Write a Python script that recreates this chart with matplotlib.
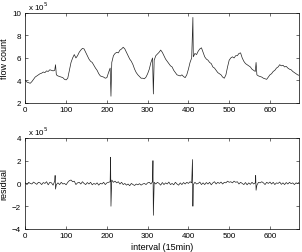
import numpy as np
import matplotlib
matplotlib.use("Agg")
import matplotlib.pyplot as plt

# traffic flow, sampled every 4 intervals (units of 1e5)
flow_step = 4
flow_vals = [
    4.0, 3.85, 3.8, 3.75, 3.9, 4.1, 4.3, 4.4, 4.5, 4.6,
    4.65, 4.75, 4.7, 4.85, 4.8, 4.95, 4.9, 4.85, 4.9, 4.5,
    4.4, 4.35, 4.3, 4.25, 4.1, 4.05, 4.2, 4.9, 5.6, 6.0,
    6.3, 6.0, 6.2, 6.5, 6.7, 6.85, 6.8, 6.5, 6.2, 5.9,
    5.7, 5.6, 5.35, 5.1, 4.9, 4.6, 4.4, 4.35, 4.3, 4.2,
    4.25, 4.7, 5.1, 5.6, 6.2, 6.4, 6.5, 6.45, 6.7, 6.8,
    6.95, 6.8, 6.5, 6.2, 5.9, 5.7, 5.4, 5.0, 4.7, 4.5,
    4.35, 4.2, 4.2, 4.15, 4.3, 4.6, 5.0, 5.6, 6.0, 5.8,
    6.2, 6.35, 6.5, 6.7, 6.5, 6.2, 5.9, 5.7, 5.5, 5.3,
    5.2, 4.9, 4.7, 4.5, 4.45, 4.4, 4.5, 4.35, 4.25, 4.5,
    5.0, 5.6, 6.0, 6.1, 6.4, 6.3, 6.6, 6.8, 6.9, 6.5,
    6.1, 5.9, 5.8, 5.6, 5.5, 5.2, 5.1, 4.9, 4.7, 4.6,
    4.5, 4.3, 4.2, 4.5, 5.2, 5.8, 6.0, 6.1, 6.0, 6.2,
    6.2, 6.4, 6.45, 6.0, 5.7, 5.5, 5.4, 5.3, 5.2, 5.0,
    4.9, 4.8, 4.5, 4.4, 4.35, 4.3, 4.2, 4.15, 4.1, 4.3,
    4.5, 4.6, 4.8, 4.9, 5.1, 5.2, 5.4, 5.3, 5.35, 5.2,
    5.25, 5.1, 5.0, 4.95, 4.8, 4.7, 4.6, 4.5, 4.45,
]
# anomalies in the flow
flow_spike_t = [74, 210, 314, 411, 566]
flow_spike_v = [5.4, 2.6, 2.8, 9.6, 5.6]

# residual of the model (units of 1e5)
res_vals = [
    0.05, -0.1, 0.1, 0.0, -0.05, 0.12, 0.02, -0.08, 0.1, 0.05,
    -0.1, 0.08, 0.0, 0.15, -0.12, 0.1, 0.05, -0.15, 0.2, -0.1,
    0.05, -0.1, 0.1, -0.05, 0.0, -0.12, 0.1, 0.25, 0.3, 0.15,
    0.2, -0.1, 0.05, 0.1, -0.05, 0.15, 0.0, -0.1, 0.08, -0.05,
    0.1, -0.12, 0.0, -0.08, 0.05, -0.15, 0.02, -0.05, 0.1, -0.1,
    0.05, 0.1, 0.15, 0.3, 0.1, 0.2, 0.05, 0.15, -0.05, 0.1,
    -0.1, 0.0, -0.15, -0.05, -0.2, 0.0, -0.1, -0.18, -0.05, -0.12,
    -0.02, -0.15, -0.05, 0.0, -0.1, 0.05, 0.1, -0.05, 0.15, 0.1,
    -0.05, 0.1, 0.0, -0.15, 0.08, -0.1, 0.05, -0.05, 0.12, -0.1,
    0.0, -0.12, 0.1, -0.05, -0.15, 0.05, -0.1, 0.08, -0.05, 0.1,
    0.0, 0.15, 0.05, -0.1, 0.1, -0.05, 0.0, 0.12, -0.1, 0.05,
    -0.1, 0.08, -0.05, 0.1, -0.12, 0.05, 0.15, -0.05, 0.1, 0.0,
    0.12, -0.05, 0.1, 0.05, 0.2, 0.1, 0.15, 0.05, 0.2, 0.1,
    0.15, -0.05, 0.1, 0.0, -0.1, 0.08, -0.12, 0.05, -0.08, 0.1,
    -0.05, 0.05, -0.15, 0.1, 0.05, 0.15, 0.05, -0.1, 0.1, 0.0,
    0.12, -0.05, 0.1, -0.1, 0.05, 0.0, 0.12, -0.08, 0.05, -0.1,
    0.08, -0.05, 0.1, -0.02, 0.05, -0.1, 0.05, 0.0, 0.1,
]
res_spike_t = [73, 74, 209, 210, 313, 314, 410, 411, 565, 566]
res_spike_v = [0.7, -0.5, 2.3, -2.0, 2.0, -2.8, 2.1, -2.0, 0.7, -0.6]

x_ticks = [0, 100, 200, 300, 400, 500, 600]
flow_ticks = [2, 4, 6, 8, 10]
res_ticks = [-4, -2, 0, 2, 4]


def merge(vals, spike_t, spike_v):
    t = np.arange(len(vals)) * flow_step
    t_all = np.concatenate([t, spike_t])
    v_all = np.concatenate([vals, spike_v])
    order = np.argsort(t_all, kind="stable")
    return t_all[order], v_all[order]


plt.rcParams["font.family"] = ["Liberation Sans", "DejaVu Sans"]
plt.rcParams["font.size"] = 5.5

fig = plt.figure(figsize=(3.02, 2.53), dpi=100)
ax1 = fig.add_axes([0.084, 0.589, 0.907, 0.356])
ax2 = fig.add_axes([0.084, 0.091, 0.907, 0.360])

ft, fv = merge(flow_vals, flow_spike_t, flow_spike_v)
rt, rv = merge(res_vals, res_spike_t, res_spike_v)

ax1.plot(ft, fv, color="#222222", lw=0.5)
ax2.plot(rt, rv, color="#222222", lw=0.5)

for ax, yt, lbl in [(ax1, flow_ticks, "flow count"), (ax2, res_ticks, "residual")]:
    ax.set_xlim(0, 672)
    ax.set_ylim(yt[0], yt[-1])
    ax.set_xticks(x_ticks)
    ax.set_yticks(yt)
    ax.tick_params(direction="in", length=2, width=0.4, top=True, right=True,
                   labelsize=5.8, pad=2.5)
    ax.tick_params(axis="y", pad=3)
    for s in ax.spines.values():
        s.set_linewidth(0.5)
    ax.set_ylabel(lbl, fontsize=6.5, labelpad=2.5)
    ax.text(0.01, 1.015, r"x 10$^{5}$", transform=ax.transAxes,
            fontsize=5.8, ha="left", va="bottom")

ax2.set_xlabel("interval (15min)", fontsize=6.5, labelpad=1.5)

fig.savefig("out.png", dpi=100)
